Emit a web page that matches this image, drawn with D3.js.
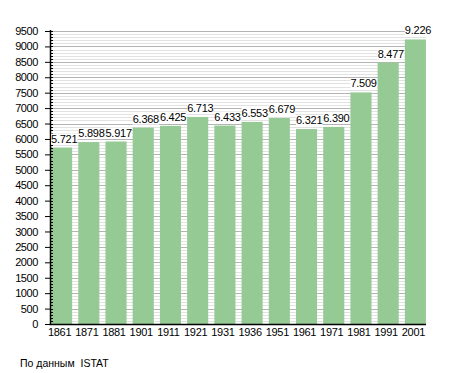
<!DOCTYPE html>
<html><head><meta charset="utf-8">
<script src="https://cdn.jsdelivr.net/npm/d3@7"></script>
<style>body{margin:0;background:#fff}svg{display:block}text{font-family:"Liberation Sans",Arial,sans-serif}</style>
</head><body>
<script>
const years = ["1861","1871","1881","1901","1911","1921","1931","1936","1951","1961","1971","1981","1991","2001"];
const population = [5721,5898,5917,6368,6425,6713,6433,6553,6679,6321,6390,7509,8477,9226];
const yMajorTicks = [0,500,1000,1500,2000,2500,3000,3500,4000,4500,5000,5500,6000,6500,7000,7500,8000,8500,9000,9500];
const sourceNote = "По данным  ISTAT";

(function () {
const W = 455, H = 373;
const mLeft = 50, mRight = 426, mTop = 31, mBottom = 324;
const FF = '"Liberation Sans",Arial,sans-serif';
const svg = d3.select("body").append("svg").attr("width", W).attr("height", H);

const y = d3.scaleLinear().domain([0, 9500]).range([mBottom, mTop]);
const x = d3.scaleBand().domain(years).range([mLeft - 2, mRight + 3]).paddingInner(0.225).paddingOuter(0.1125);

const minor = d3.range(0, 9501, 100);
svg.append("g").selectAll("line").data(minor.filter(v => v % 500 !== 0)).join("line")
  .attr("x1", mLeft).attr("x2", mRight).attr("y1", d => Math.round(y(d)) + 0.5).attr("y2", d => Math.round(y(d)) + 0.5)
  .attr("stroke", "#e2e2e2").attr("stroke-width", 1);
svg.append("g").selectAll("line").data(yMajorTicks.filter(v => v > 0)).join("line")
  .attr("x1", mLeft).attr("x2", mRight).attr("y1", d => Math.round(y(d)) + 0.5).attr("y2", d => Math.round(y(d)) + 0.5)
  .attr("stroke", "#b4b4b4").attr("stroke-width", 1);

svg.append("g").selectAll("rect").data(years).join("rect")
  .attr("x", d => x(d)).attr("width", x.bandwidth())
  .attr("y", (d, i) => y(population[i])).attr("height", (d, i) => mBottom - y(population[i]))
  .attr("fill", "#95ca95");

svg.append("g").selectAll("line").data(minor).join("line")
  .attr("x1", mLeft).attr("x2", mLeft + 3).attr("y1", d => Math.round(y(d)) + 0.5).attr("y2", d => Math.round(y(d)) + 0.5)
  .attr("stroke", "#000").attr("stroke-width", 1);

const yAxis = d3.axisLeft(y).tickValues(yMajorTicks).tickSize(5).tickPadding(7).tickFormat(d3.format("d"));
const gy = svg.append("g").attr("transform", `translate(${mLeft},0)`).call(yAxis);
gy.select(".domain").remove();
gy.selectAll("text").attr("font-size", 11).attr("fill", "#000").style("font-family", FF).style("letter-spacing", "-0.4px");
gy.selectAll("line").attr("stroke", "#000");
svg.append("line").attr("x1", mLeft + 0.5).attr("x2", mLeft + 0.5).attr("y1", mTop - 1).attr("y2", mBottom + 1).attr("stroke", "#000").attr("stroke-width", 1.5);

const xAxis = d3.axisBottom(x).tickSize(0).tickPadding(4);
const gx = svg.append("g").attr("transform", `translate(0,${mBottom})`).call(xAxis);
gx.select(".domain").remove();
gx.selectAll(".tick text").attr("x", -2).attr("font-size", 11).attr("fill", "#000").style("font-family", FF).style("letter-spacing", "-0.3px");
svg.append("line").attr("x1", mLeft - 0.5).attr("x2", mRight).attr("y1", mBottom + 0.5).attr("y2", mBottom + 0.5).attr("stroke", "#000").attr("stroke-width", 1.5);

const fmt = v => d3.format(",")(v).replace(/,/g, ".");
const labels = svg.append("g").selectAll("g").data(years).join("g")
  .attr("transform", (d, i) => `translate(${x(d)},${y(population[i]) - 5})`);
labels.append("text").attr("text-anchor", "start").attr("font-size", 11).attr("fill", "#000")
  .style("letter-spacing", "-0.25px")
  .text((d, i) => fmt(population[i]));
labels.each(function () {
  const g = d3.select(this), t = g.select("text"), b = t.node().getBBox();
  g.insert("rect", "text").attr("x", b.x).attr("y", b.y + 1).attr("width", b.width).attr("height", b.height - 1).attr("fill", "#fff");
});

svg.append("text").attr("x", 20).attr("y", 367).attr("font-size", 10.5).attr("fill", "#000")
  .style("white-space", "pre").text(sourceNote);
})();
</script>
</body></html>
